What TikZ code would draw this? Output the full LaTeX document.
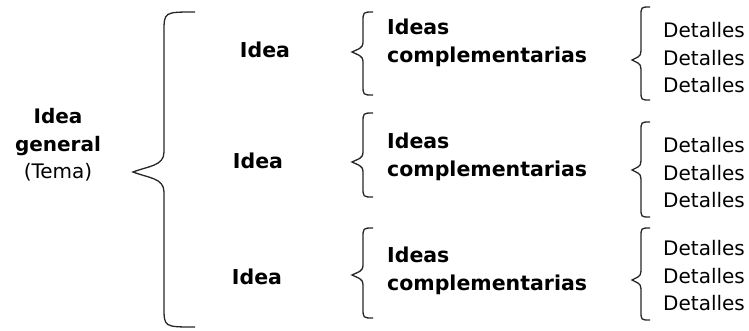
\documentclass[tikz,border=0pt]{standalone}
\usepackage{fontspec}
\setmainfont{DejaVu Sans}
\usetikzlibrary{positioning}

\tikzset{
	llavelinea/.style={draw=black!85,line width=1.3pt},
	negrita/.style={font=\fontsize{20.5}{27.5}\selectfont\bfseries,inner sep=0pt},
	normal/.style={font=\fontsize{20}{27.5}\selectfont,inner sep=0pt},
}

% #1 extremo, #2 linea, #3 punta, #4 arriba, #5 punta y, #6 abajo, #7 curva
\newcommand{\llave}[7]{
	\draw[llavelinea] (#1,#4) .. controls (#2,#4) .. (#2,#4+#7)
		-- (#2,#5-#7) .. controls (#2,#5-0.3*#7) and ({0.5*#2+0.5*#3},#5-0.3*#7) .. (#3,#5)
		.. controls ({0.5*#2+0.5*#3},#5+0.3*#7) and (#2,#5+0.3*#7) .. (#2,#5+#7)
		-- (#2,#6-#7) .. controls (#2,#6) .. (#1,#6);
}

\begin{document}
\begin{tikzpicture}[x=1pt,y=-1pt]
		\useasboundingbox (0,0) rectangle (749,330);
		\node[normal,align=center] (tema) at (58,145) {\textbf{Idea}\\\textbf{general}\\(Tema)};
		\llave{195}{164}{133}{12}{172}{327}{20}
		\node[negrita] (idea1) at (265,50) {Idea};
		\node[negrita] (idea2) at (258,161) {Idea};
		\node[negrita] (idea3) at (257,277) {Idea};
		\llave{373}{363}{352}{12}{52}{95}{10}
		\llave{373}{363}{352}{113}{162}{197}{10}
		\llave{373}{363}{352}{228}{275}{318}{10}
		\node[negrita,align=left,anchor=west] (comp1) at (387,43) {Ideas\\complementarias};
		\node[negrita,align=left,anchor=west] (comp2) at (387,157) {Ideas\\complementarias};
		\node[negrita,align=left,anchor=west] (comp3) at (387,271) {Ideas\\complementarias};
		\llave{650}{641}{632}{7}{60}{100}{9}
		\llave{650}{641}{632}{122}{170}{217}{9}
		\llave{650}{641}{632}{228}{280}{320}{9}
		\node[normal,align=left,anchor=west] (det1) at (663,58) {Detalles\\Detalles\\Detalles};
		\node[normal,align=left,anchor=west] (det2) at (663,173) {Detalles\\Detalles\\Detalles};
		\node[normal,align=left,anchor=west] (det3) at (663,276) {Detalles\\Detalles\\Detalles};
\end{tikzpicture}
\end{document}
